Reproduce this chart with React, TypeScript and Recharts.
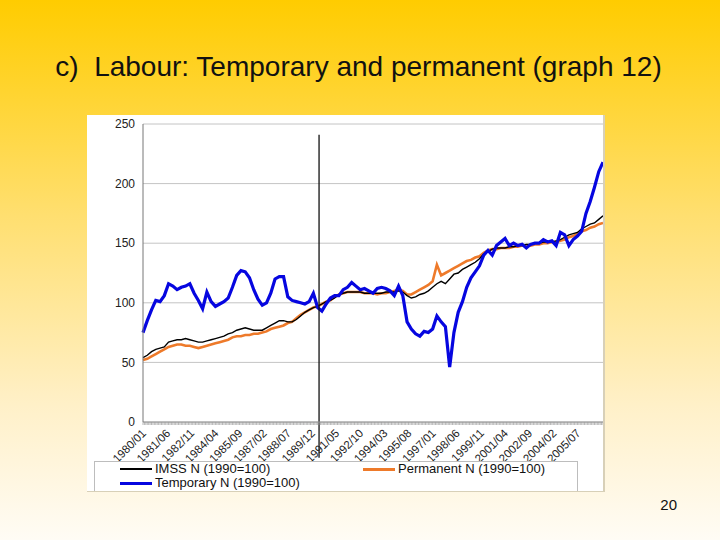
import React from 'react';
import { LineChart, Line, XAxis, YAxis, CartesianGrid, ReferenceLine } from 'recharts';

// month index from 1980/01, one reading every 3 months
const months = Array.from({ length: 109 }, (_, i) => i * 3);

const imss = [
    54, 56, 59, 61, 62, 63, 67, 68, 69, 69,
    70, 69, 68, 67, 67, 68, 69, 70, 71, 72,
    74, 75, 77, 78, 79, 78, 77, 77, 77, 79,
    81, 83, 85, 85, 84, 84, 86, 89, 92, 94,
    96, 97, 99, 101, 102, 104, 107, 108, 109, 109,
    109, 109, 108, 108, 108, 108, 108, 109, 109, 109,
    110, 109, 106, 104, 105, 107, 108, 110, 113, 116,
    118, 116, 120, 124, 125, 128, 130, 132, 134, 137,
    141, 143, 145, 146, 146, 146, 147, 147, 148, 148,
    149, 149, 150, 150, 151, 151, 151, 152, 153, 155,
    157, 158, 159, 162, 164, 166, 167, 170, 173,
];

const permanent = [
    52, 53, 55, 57, 59, 61, 63, 64, 65, 65,
    64, 64, 63, 62, 63, 64, 65, 66, 67, 68,
    69, 71, 72, 72, 73, 73, 74, 74, 75, 76,
    78, 79, 80, 81, 83, 84, 87, 90, 92, 94,
    96, 97, 99, 101, 102, 105, 107, 108, 109, 109,
    109, 109, 108, 108, 108, 107, 108, 108, 109, 110,
    111, 110, 107, 107, 109, 111, 113, 115, 118, 132,
    123, 125, 127, 129, 131, 133, 135, 136, 138, 139,
    142, 144, 145, 145, 146, 146, 146, 147, 147, 148,
    148, 148, 149, 149, 150, 150, 151, 151, 152, 153,
    155, 156, 158, 160, 161, 163, 164, 166, 167,
];

const temporary = [
    75, 85, 94, 102, 101, 106, 116, 114, 111, 113,
    114, 116, 108, 102, 95, 109, 101, 97, 99, 101,
    104, 113, 123, 127, 126, 121, 111, 103, 98, 100,
    108, 120, 122, 122, 105, 102, 101, 100, 99, 101,
    108, 96, 93, 99, 104, 106, 106, 111, 113, 117,
    114, 111, 112, 110, 108, 112, 113, 112, 110, 106,
    114, 106, 84, 78, 74, 72, 76, 75, 78, 89,
    84, 80, 46, 75, 92, 101, 113, 121, 126, 131,
    140, 144, 140, 148, 151, 154, 148, 150, 148, 149,
    146, 149, 150, 150, 153, 151, 152, 148, 159, 157,
    148, 153, 156, 160, 175, 185, 197, 210, 218,
];

const tickLabels = [
    '1980/01', '1981/06', '1982/11', '1984/04', '1985/09', '1987/02', '1988/07',
    '1989/12', '1991/05', '1992/10', '1994/03', '1995/08', '1997/01', '1998/06',
    '1999/11', '2001/04', '2002/09', '2004/02', '2005/07',
];
const yTicks = [0, 50, 100, 150, 200, 250];
const markerMonth = 124;

const data = months.map((m, i) => ({
    m,
    imss: imss[i],
    permanent: permanent[i],
    temporary: temporary[i],
}));

const axisTicks = Array.from({ length: 325 }, (_, i) => i);
const font = 'Arial, "Liberation Sans", sans-serif';

function XTick(props: any) {
    const { x, y, payload } = props;
    const v = payload.value;
    const idx = v / 17;
    const label = Number.isInteger(idx) && idx < tickLabels.length ? tickLabels[idx] : null;
    return (
        <g transform={`translate(${x},${y})`}>
            <line x1={0} y1={0} x2={0} y2={3} stroke="#9a9a9a" strokeWidth={0.7} />
            {label && (
                <text
                    transform="translate(1,9) rotate(-45)"
                    textAnchor="end"
                    dy="0.35em"
                    fontSize={11.5}
                    fill="#222"
                    fontFamily={font}
                >
                    {label}
                </text>
            )}
        </g>
    );
}

function LegendRow({ color, width, label, left, top }: any) {
    return (
        <div style={{ position: 'absolute', left, top, display: 'flex', alignItems: 'center', height: 12 }}>
            <div style={{ width: 32, height: width, background: color, marginRight: 3 }} />
            <span style={{ fontSize: 13, color: '#111', lineHeight: '12px', whiteSpace: 'nowrap' }}>{label}</span>
        </div>
    );
}

export default function App() {
    return (
        <div
            style={{
                position: 'fixed',
                left: 0,
                top: 0,
                width: 720,
                height: 540,
                overflow: 'hidden',
                fontFamily: font,
                background: 'linear-gradient(180deg, #FFCC00 0%, #FFDF70 40%, #FFF0C8 75%, #FFFCF5 100%)',
            }}
        >
            <div
                style={{
                    position: 'absolute',
                    left: 0,
                    width: 717,
                    top: 51,
                    textAlign: 'center',
                    fontSize: 28,
                    color: '#111',
                    whiteSpace: 'pre',
                }}
            >
                {'c)  Labour: Temporary and permanent (graph 12)'}
            </div>

            <div
                style={{
                    position: 'absolute',
                    left: 87,
                    top: 115,
                    width: 516,
                    height: 376,
                    background: '#fff',
                    borderRight: '2px solid #d8d0b8',
                    borderBottom: '1px solid #d8d0b8',
                    overflow: 'hidden',
                }}
            >
                <LineChart width={518} height={376} data={data} margin={{ top: 9, right: 2, left: 0, bottom: 0 }}>
                    <CartesianGrid vertical={false} stroke="#c4c4c4" />
                    <XAxis
                        dataKey="m"
                        type="number"
                        domain={[0, 324]}
                        ticks={axisTicks}
                        interval={0}
                        tick={<XTick />}
                        tickLine={false}
                        tickSize={0}
                        tickMargin={0}
                        height={69}
                        axisLine={{ stroke: '#9a9a9a' }}
                    />
                    <YAxis
                        domain={[0, 250]}
                        ticks={yTicks}
                        width={56}
                        tickLine={false}
                        tickSize={0}
                        tickMargin={8}
                        tick={{ fontSize: 12, fill: '#222', fontFamily: font }}
                        axisLine={{ stroke: '#777' }}
                    />
                    <Line dataKey="permanent" stroke="#EE7A2A" strokeWidth={2.6} dot={false} isAnimationActive={false} />
                    <Line dataKey="imss" stroke="#000" strokeWidth={1.4} dot={false} isAnimationActive={false} />
                    <Line dataKey="temporary" stroke="#0606E0" strokeWidth={3.2} dot={false} isAnimationActive={false} />
                    <ReferenceLine
                        segment={[{ x: markerMonth, y: 241 }, { x: markerMonth, y: -30 }]}
                        stroke="#111"
                        strokeWidth={1.3}
                        ifOverflow="visible"
                    />
                </LineChart>
                <div
                    style={{
                        position: 'absolute',
                        left: 7,
                        top: 346,
                        width: 482,
                        height: 40,
                        border: '1px solid #bdbdbd',
                        background: '#fff',
                    }}
                />
                <LegendRow color="#000" width={2} label="IMSS N (1990=100)" left={33} top={348} />
                <LegendRow color="#0606E0" width={3} label="Temporary N (1990=100)" left={33} top={362} />
                <LegendRow color="#EE7A2A" width={3} label="Permanent N (1990=100)" left={276} top={348} />
            </div>

            <div style={{ position: 'absolute', left: 655, width: 22, top: 496, textAlign: 'right', fontSize: 15, color: '#111' }}>
                20
            </div>
        </div>
    );
}
